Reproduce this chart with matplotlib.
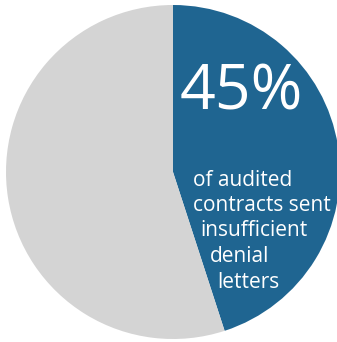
import matplotlib
matplotlib.use("Agg")
import matplotlib.pyplot as plt

# share of audited contracts
shares = [45, 55]
slice_colors = ["#1f6591", "#d4d4d4"]

headline = "45%"
caption_lines = ["of audited", "contracts sent", "insufficient", "denial", "letters"]

W, H = 337, 342
fig = plt.figure(figsize=(W / 100, H / 100), dpi=100)
ax = fig.add_axes([0, 0, 1, 1])

# pie drawn in pixel units so text can be placed the same way
ax.pie(shares, colors=slice_colors, startangle=90, counterclock=False,
       center=(173, H - 172), radius=167,
       wedgeprops=dict(linewidth=0))
ax.set_xlim(0, W)
ax.set_ylim(0, H)
ax.set_aspect("equal")
ax.axis("off")

font = "Open Sans"
ax.text(180, H - 110, headline, color="white", fontsize=45,
        family=font, ha="left", va="baseline")

# caption is hand-indented to sit inside the wedge
line_x = [193, 193, 200, 210, 217]
line_base = [186, 211, 236, 262, 288]
for txt, x, y in zip(caption_lines, line_x, line_base):
    ax.text(x, H - y, txt, color="white", fontsize=15, family=font,
            ha="left", va="baseline")

fig.savefig("out.png", dpi=100)
